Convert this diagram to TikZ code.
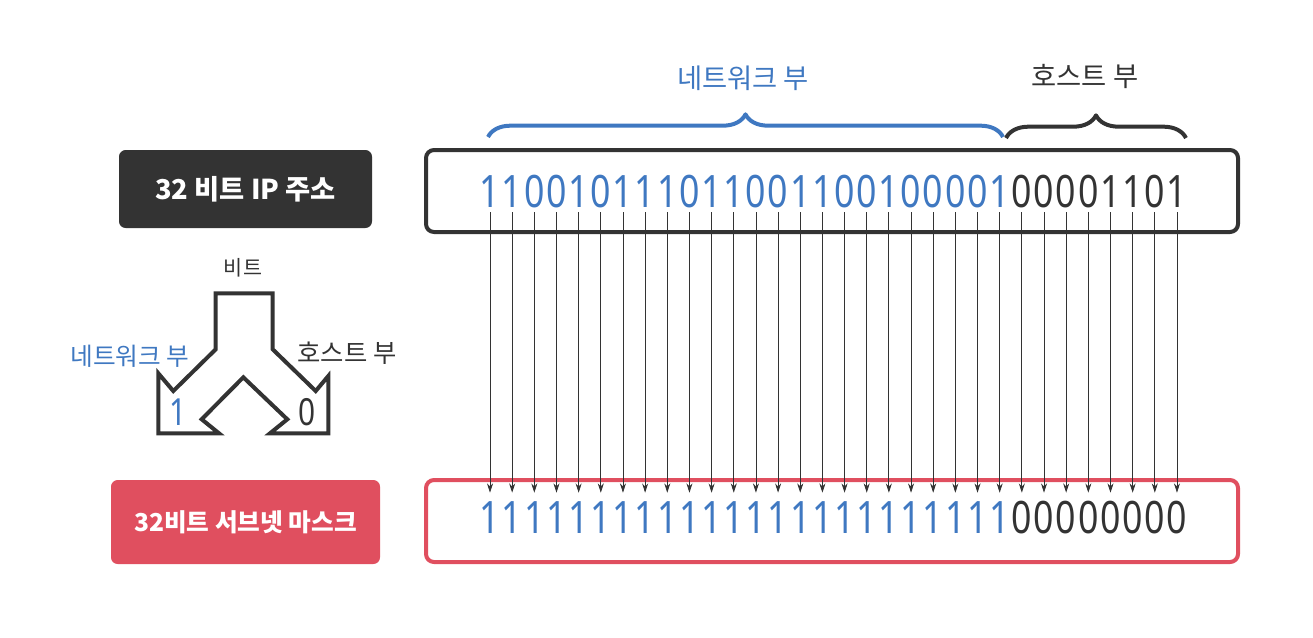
\documentclass[tikz,border=0pt]{standalone}
\usepackage{fontspec}
\setmainfont{Noto Sans CJK KR}
\newfontfamily\bitfont[FakeStretch=0.8]{Noto Sans}
\usetikzlibrary{arrows.meta, decorations.pathreplacing}

\definecolor{netblue}{HTML}{3F78C1}
\definecolor{hostgray}{HTML}{333333}
\definecolor{maskred}{HTML}{E04F5F}

\begin{document}
\begin{tikzpicture}[x=0.75pt, y=-0.75pt, line join=round,
  bitbox/.style={draw, line width=3pt, rounded corners=6pt,
    minimum width=609pt, minimum height=61.5pt},
  tagbox/.style={rounded corners=5pt, text=white, inner sep=0pt},
  topbit/.style={font=\bitfont\fontsize{33.5}{33.5}\selectfont, anchor=base,
    inner xsep=0pt, inner ysep=3.75pt, text height=24pt, text depth=0pt},
  botbit/.style={topbit, inner ysep=6pt},
  bitarrow/.style={-{Stealth[length=7pt, width=4.5pt]}, line width=0.6pt, hostgray},
  bitbrace/.style={decorate, line width=3pt,
    decoration={brace, amplitude=17pt}}]

  \useasboundingbox (0,0) rectangle (1313,637);

  % 상자
  \node[bitbox, draw=hostgray] (ipbox) at (832,191) {};
  \node[bitbox, draw=maskred] (maskbox) at (832,521) {};

  % 왼쪽 이름표
  \node[tagbox, fill=hostgray, minimum width=189.75pt, minimum height=58.5pt,
    font=\bfseries\fontsize{20.5}{20.5}\selectfont] (iptag) at (245.5,189) {32 비트 IP 주소};
  \node[tagbox, fill=maskred, minimum width=201.75pt, minimum height=63pt,
    font=\bfseries\fontsize{18.5}{18.5}\selectfont] (masktag) at (245.5,522) {32비트 서브넷 마스크};

  % 비트 (위: IP 주소, 아래: 서브넷 마스크)
  \foreach \b [count=\i] in {1,1,0,0,1,0,1,1,1,0,1,1,0,0,1,1,0,0,1,0,0,0,0,1,
                             0,0,0,0,1,1,0,1} {
    \ifnum\i<25 \def\bitcol{netblue}\else\def\bitcol{hostgray}\fi
    \node[topbit, text=\bitcol] (t\i) at ({490+(\i-1)*22.16},207) {\b};
  }
  \foreach \i in {1,...,32} {
    \ifnum\i<25 \def\bitcol{netblue}\def\b{1}\else\def\bitcol{hostgray}\def\b{0}\fi
    \node[botbit, text=\bitcol] (b\i) at ({490+(\i-1)*22.16},533) {\b};
    \draw[bitarrow] (t\i) -- (b\i);
  }

  % 중괄호
  \coordinate (netL) at (488,137);
  \coordinate (netR) at (1003,137);
  \coordinate (hostL) at (1006,138);
  \coordinate (hostR) at (1186,138);
  \draw[bitbrace, netblue] (netL) -- (netR);
  \draw[bitbrace, hostgray] (hostL) -- (hostR);

  \node[text=netblue, font=\fontsize{20.5}{20.5}\selectfont] (nettitle) at (743,78) {네트워크 부};
  \node[text=hostgray, font=\fontsize{20.5}{20.5}\selectfont] (hosttitle) at (1085,76) {호스트 부};

  % 비트 그림
  \draw[hostgray, line width=3pt, line join=miter]
    (215.7,293.3) -- (272.7,293.3) -- (272.7,349.3) -- (315.7,391)
    -- (328.3,376) -- (328.3,433.3) -- (270,433.3) -- (287.3,419.3)
    -- (243.3,377.3) -- (201.7,419.3) -- (219,433.3) -- (158.3,433.3)
    -- (158.3,373.3) -- (173.3,391) -- (215.7,349.3) -- cycle;

  \node[text=hostgray, font=\fontsize{15.5}{15.5}\selectfont] (bitname) at (243,268) {비트};
  \node[text=netblue, font=\fontsize{18.5}{18.5}\selectfont] (netname) at (130,356) {네트워크 부};
  \node[text=hostgray, font=\fontsize{19}{19}\selectfont] (hostname) at (347,353) {호스트 부};
  \node[text=netblue, font=\bitfont\fontsize{28}{28}\selectfont] (one) at (178,412) {1};
  \node[text=hostgray, font=\bitfont\fontsize{28}{28}\selectfont] (zero) at (307,412) {0};
\end{tikzpicture}
\end{document}
